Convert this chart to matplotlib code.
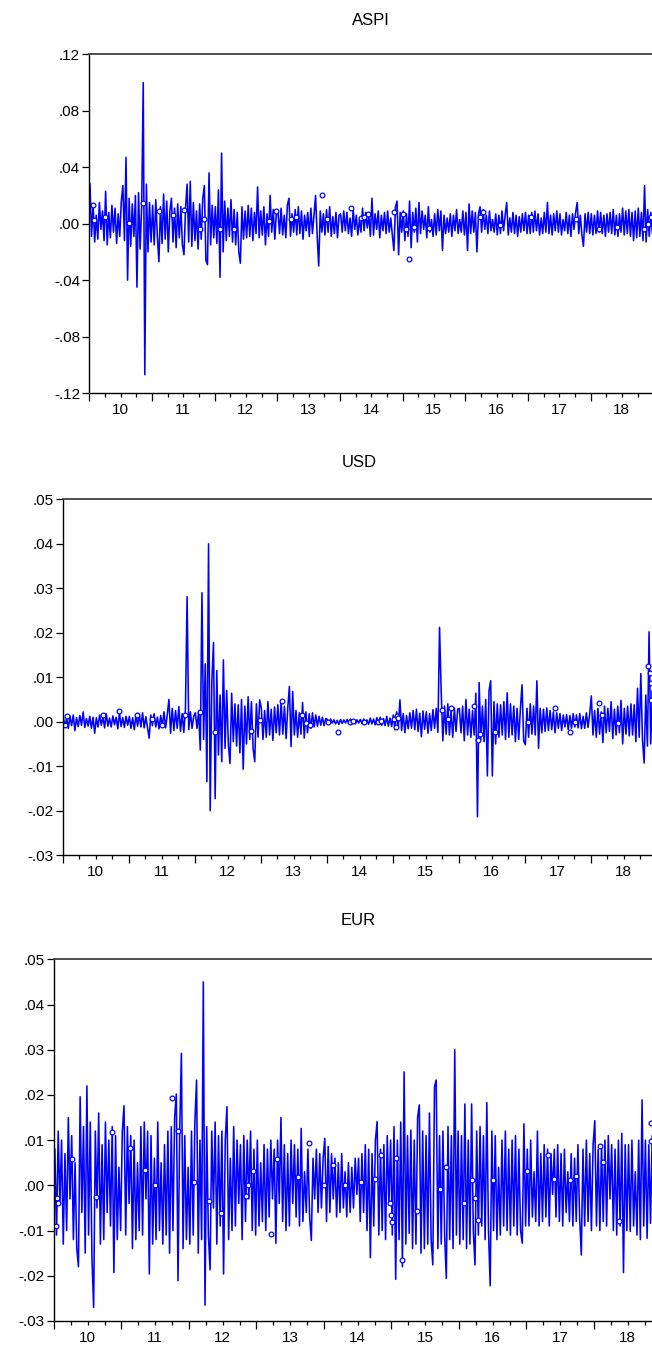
import numpy as np
import matplotlib
matplotlib.use("Agg")
import matplotlib.pyplot as plt
from matplotlib.ticker import FuncFormatter, NullFormatter

plt.rcParams['font.family'] = ['Liberation Sans', 'DejaVu Sans']

## DATA (daily returns, units of 1e-4, 40 obs per year 2010-2018)

aspi = [
    # 2010
    280, -90, 130, -130, 60, -110, 150, -40, 90, -120,
    230, -150, 80, -100, 130, -60, 110, -140, 70, -90,
    160, 270, -120, 470, -400, 180, -160, 140, -90, 200,
    -450, 220, -180, 120, 1000, -1070, 280, -200, 150, -130,
    # 2011
    130, -150, 170, -90, -270, 120, -140, 210, -110, 160,
    -200, 90, 180, -130, 110, -170, 140, -100, 120, -150,
    -220, 110, 280, -130, 300, -160, 150, -120, 90, -180,
    140, -110, 180, 270, -260, -290, 360, -150, 130, -100,
    # 2012
    120, -140, 240, -380, 500, -200, 160, -120, 110, -90,
    170, -130, 100, -150, 80, -200, -280, 120, -110, 90,
    -100, 130, -90, 110, -120, 80, -70, 260, -100, 90,
    -80, 120, -150, 70, -90, 200, -60, 100, -110, 80,
    # 2013
    90, -70, 110, -80, 60, -100, 130, 180, -90, 70,
    -60, 100, -80, 120, -70, 90, -110, 60, -50, 80,
    -90, 110, -70, 60, 200, -80, -300, 90, -60, 70,
    -80, 100, -60, 120, -90, 50, -70, 80, -100, 60,
    # 2014
    70, -60, 90, -50, 80, -70, 40, -90, 100, -40,
    60, -80, 30, -60, 110, -50, 80, -30, 60, -90,
    180, -80, 70, -40, 90, -100, 60, -50, 80, -70,
    90, -60, 40, -80, -190, 120, 160, -220, 80, -60,
    # 2015
    90, -120, 70, -90, 160, -170, 80, -60, 110, -130,
    150, -70, 90, -40, 60, -100, 120, -60, 30, -90,
    70, -80, 100, -50, 90, -190, 60, -70, 40, -60,
    70, -90, 60, -50, 100, -70, 30, -60, 90, -80,
    # 2016
    80, -190, 140, -70, 90, -60, 80, -200, 70, 120,
    -60, 100, -40, 60, -70, 90, -50, 30, -60, 70,
    -80, 60, -70, 90, -50, 60, 150, -80, 40, -60,
    80, -70, 60, -90, 50, -60, 70, -50, 80, -70,
    # 2017
    60, -70, 80, -60, 90, -50, 70, -80, 40, -70,
    80, -60, 150, -70, 60, -80, 70, -50, 90, -60,
    70, -80, 30, -50, 80, -70, 60, -90, 70, -40,
    80, 150, -70, 60, -80, -160, 70, -60, 80, -70,
    # 2018
    70, -80, 60, -70, 90, -60, 80, -70, 60, -90,
    70, -60, 80, -70, 100, -80, 60, -90, 70, -60,
    110, -80, 90, -70, 100, -90, 80, -120, 90, -100,
    110, -90, 80, -120, 270, -130, 100, -90, 80, -70,
]

usd = [
    # 2010
    10, -12, 8, -15, 12, -9, 15, -20, 9, -11,
    14, -8, 22, -13, 7, -10, 12, -15, 10, -26,
    9, -12, 15, -8, 11, -14, 18, -10, 8, -12,
    13, -7, 10, -16, 20, -11, 9, -13, 12, -8,
    # 2011
    12, -15, 9, -18, 14, -10, 16, -12, 20, -14,
    11, -13, -37, 15, -9, 18, -12, 10, -16, 14,
    -11, 22, -14, 16, 50, -26, 30, -20, 25, -15,
    34, -22, 18, -24, 28, 281, -18, 22, -15, 12,
    # 2012
    20, -15, 23, -64, 290, -40, 130, -135, 400, -200,
    90, 178, -173, 115, -75, 60, -90, 139, -60, 70,
    -50, -94, 64, -45, 40, -55, 38, -70, 50, -107,
    35, -50, 56, -40, 45, -60, -90, 40, -35, 49,
    # 2013
    30, -40, 25, -35, 45, -30, 28, -42, 33, -25,
    38, -30, 46, -28, 35, -38, 30, 79, -56, 68,
    -30, 25, -35, 20, -28, 43, -37, 22, -25, 18,
    -15, 20, -12, 15, -10, 12, -8, 10, -9, 7,
    # 2014
    5, -4, 6, -3, 4, -5, 3, -6, 5, -4,
    4, -3, 5, -4, 6, -4, 3, -5, 4, -3,
    5, -4, 6, -5, 4, -6, 8, -5, 6, -7,
    9, -6, 10, -8, 7, -9, 12, -10, 8, -11,
    # 2015
    15, -18, 22, -12, 49, -20, 18, -25, 14, -16,
    20, -15, 25, -18, 28, -22, 19, -34, 24, -17,
    22, -26, 18, -20, 27, -15, 30, -24, 212, 68,
    -43, 35, -28, 40, -30, 25, -35, 30, -22, 28,
    # 2016
    30, -25, 35, -43, 50, -30, 28, -35, 25, -30,
    64, -214, 88, -40, 35, -45, 50, -122, 70, 92,
    -122, 45, -50, 40, -35, 38, -30, 45, -40, 65,
    -35, 40, -30, 35, -45, 30, -40, 28, 83, -43,
    # 2017
    -52, 30, -35, 40, -28, 35, -30, 92, -60, 30,
    -25, 28, -22, 31, -20, 25, -18, 22, -25, 20,
    -15, 18, -20, 15, -12, 16, -18, 14, -15, 18,
    -12, 15, -14, 18, -16, 12, -15, 20, -13, 17,
    # 2018
    58, -30, 25, -35, 30, -28, 22, -47, 35, -25,
    30, -22, 45, -38, 28, -30, 35, -25, 48, -50,
    30, -28, 35, -32, 40, -30, 38, -45, 75, -35,
    108, -40, -93, 60, -55, 202, -50, 70, -45, 40,
]

eur = [
    # 2010
    80, -110, 120, -40, 100, -130, 70, -100, 150, -30,
    110, -120, 50, -140, -180, 196, -60, 130, -150, 220,
    -110, 140, -160, -270, 120, -50, 160, -130, 90, -120,
    140, -60, 100, -90, 130, -193, 110, -120, 40, -100,
    # 2011
    120, 176, -110, 130, -40, 110, -140, 100, -120, 50,
    -100, 130, -110, 140, -30, 120, -196, 110, -130, 60,
    -120, 140, -100, 50, -130, 90, -110, 120, -150, 130,
    -100, 150, 202, -211, 120, 292, -140, 110, -120, 40,
    # 2012
    -130, 120, -110, 140, 233, -150, 100, -120, 450, -265,
    130, -110, -187, 120, -50, 140, -130, 110, -90, 120,
    -196, 100, 174, -120, 60, -100, 130, -90, 100, -40,
    90, -120, 110, -80, 100, -30, 120, -100, 80, -110,
    # 2013
    100, -90, 50, -80, 90, -100, 80, -70, 100, -30,
    80, -128, 100, -40, 150, -80, 90, -100, 70, -90,
    100, -40, 90, -70, 80, -90, 126, -80, 30, -60,
    80, -70, -122, 60, -30, 80, -60, 70, -50, 60,
    # 2014
    104, -80, 86, -60, 70, -30, 60, -70, 50, -60,
    70, -50, 30, -70, 50, -60, 40, -50, 60, -20,
    60, -80, 70, -60, 90, -100, 80, -160, 70, -90,
    100, 141, -110, 80, -100, 90, -120, 110, -40, 100,
    # 2015
    -110, 130, -208, 100, -120, 140, -180, 251, -130, 110,
    -106, 122, -140, 100, -130, 150, 178, -150, 120, -140,
    110, -130, 160, -120, -176, 218, 233, -140, 110, -130,
    120, -110, -206, 130, -120, 110, -140, 300, -110, 120,
    # 2016
    -130, 110, -120, 180, -140, 100, -130, 180, -100, -176,
    120, -110, 130, -90, 110, -120, 183, -100, -222, 120,
    -100, 110, -120, 40, -110, 100, -90, 120, -100, 80,
    -110, 100, -90, 110, -110, 80, -100, -128, 136, -90,
    # 2017
    80, -90, 100, -70, 30, -80, 120, -90, 70, -80,
    90, -70, 80, -90, 70, -20, 80, -70, 90, -80,
    70, -90, 80, -60, 30, -80, 70, -90, 60, -80,
    90, -70, -154, 80, -90, 100, -80, 70, -100, 90,
    # 2018
    143, -90, 80, -100, 90, -80, 100, -90, 110, -30,
    90, -100, 80, -110, 100, -90, 115, -193, 90, -100,
    90, -102, 100, -90, 30, -110, 100, -120, 189, -90,
    100, -117, 90, -84, 110, -100, 80, -90, 100, -80,
]

# isolated observations (drawn as circles): decimal year, value
aspi_iso_t = [2010.06, 2010.07, 2010.25, 2010.63, 2010.86, 2011.12, 2011.34, 2011.51,
              2011.84, 2011.77, 2012.09, 2012.31, 2012.87, 2012.98, 2013.22, 2013.30,
              2013.72, 2013.79, 2014.17, 2014.33, 2014.38, 2014.45, 2014.86, 2015.01,
              2015.05, 2015.10, 2015.19, 2015.43, 2016.23, 2016.29, 2016.55, 2017.05,
              2017.77, 2018.13, 2018.42, 2018.86, 2018.91, 2018.97]
aspi_iso_v = [0.013, 0.0025, 0.005, 0.0006, 0.0145, 0.009, 0.006, 0.0095,
              0.003, -0.0037, -0.004, -0.004, 0.002, 0.009, 0.003, 0.005,
              0.020, 0.003, 0.0114, 0.0038, 0.005, 0.007, 0.008, 0.0067,
              -0.004, -0.025, -0.002, -0.003, 0.005, 0.008, -0.0007, 0.005,
              0.003, -0.004, -0.002, -0.004, 0.0, 0.005]

usd_iso_t = [2010.03, 2010.07, 2010.62, 2010.86, 2011.13, 2011.35, 2011.51, 2011.86,
             2012.09, 2012.31, 2012.86, 2012.99, 2013.32, 2013.63, 2013.69, 2013.75,
             2014.03, 2014.17, 2014.35, 2014.40, 2014.57, 2014.78, 2014.82, 2015.02,
             2015.05, 2015.07, 2015.09, 2015.75, 2015.84, 2015.88, 2016.23, 2016.29,
             2016.32, 2016.55, 2017.05, 2017.46, 2017.69, 2017.77, 2018.13, 2018.17,
             2018.42, 2018.87, 2018.90, 2018.91, 2018.92]
usd_iso_v = [-0.0008, 0.0013, 0.0016, 0.0024, 0.0015, 0.0005, -0.0008, 0.0016,
             0.0022, -0.0024, -0.0021, 0.0004, 0.0046, 0.0015, -0.0004, -0.0007,
             0.0, -0.0023, 0.0, 0.0002, 0.0, 0.0, 0.0001, 0.0005,
             -0.0013, 0.0013, 0.0008, 0.0026, 0.0007, 0.003, 0.0036, -0.0041,
             -0.0028, -0.0023, 0.0, 0.003, -0.0023, 0.0, 0.0041, 0.0015,
             -0.0004, 0.0125, 0.011, 0.0087, 0.0049]

eur_iso_t = [2010.03, 2010.05, 2010.06, 2010.26, 2010.62, 2010.86, 2011.12, 2011.35,
             2011.50, 2011.75, 2011.84, 2012.07, 2012.30, 2012.47, 2012.85, 2012.88,
             2012.95, 2013.21, 2013.30, 2013.61, 2013.78, 2014.00, 2014.14, 2014.31,
             2014.55, 2014.76, 2014.84, 2014.98, 2015.00, 2015.01, 2015.07, 2015.15,
             2015.38, 2015.72, 2015.81, 2016.08, 2016.20, 2016.24, 2016.28, 2016.51,
             2017.01, 2017.32, 2017.41, 2017.64, 2017.73, 2018.09, 2018.13, 2018.37,
             2018.84, 2018.85]
eur_iso_v = [-0.0091, -0.0027, -0.0038, 0.0058, -0.0025, 0.0117, 0.0082, 0.0035,
             0.0, 0.0193, 0.012, 0.0008, -0.0035, -0.0062, -0.0023, 0.0,
             0.0032, -0.0108, 0.0059, 0.0019, 0.0093, 0.0, 0.0045, 0.0,
             0.0008, 0.0015, 0.0067, -0.004, -0.0066, -0.008, 0.006, -0.0165,
             -0.0056, -0.0007, 0.0041, -0.0038, 0.0012, -0.0027, -0.0077, 0.0012,
             0.0032, 0.0067, 0.0013, 0.0012, 0.0021, 0.0087, 0.0052, -0.0079,
             0.0139, 0.0099]

# CHART FEATURES

line_blue = "#0000ff"
obs_per_year = 40

def ytick_fmt(v, pos):
    return f"{v:.2f}".replace("0.", ".", 1)

def year_fmt(v, pos):
    frac = v - np.floor(v)
    if abs(frac - 0.5) < 1e-6:
        return f"{int(np.floor(v)) % 100}"
    return ""

panels = [
    dict(title="ASPI", vals=aspi, iso_t=aspi_iso_t, iso_v=aspi_iso_v,
         rect=[0.1368, 0.7097, 0.8650, 0.2502], ylim=(-0.12, 0.12),
         yticks=np.arange(-0.12, 0.121, 0.04), pad=21),
    dict(title="USD", vals=usd, iso_t=usd_iso_t, iso_v=usd_iso_v,
         rect=[0.0959, 0.3685, 0.9110, 0.2627], ylim=(-0.03, 0.05),
         yticks=np.arange(-0.03, 0.051, 0.01), pad=23),
    dict(title="EUR", vals=eur, iso_t=eur_iso_t, iso_v=eur_iso_v,
         rect=[0.0828, 0.0244, 0.9317, 0.2671], ylim=(-0.03, 0.05),
         yticks=np.arange(-0.03, 0.051, 0.01), pad=25),
]

fig = plt.figure(figsize=(6.52, 13.54), dpi=100)

for p in panels:
    ax = fig.add_axes(p["rect"])
    vals = np.array(p["vals"]) / 1e4
    t = 2010 + (np.arange(len(vals)) + 0.5) / obs_per_year

    ax.plot(t, vals, color=line_blue, linewidth=1.15)
    ax.plot(p["iso_t"], p["iso_v"], linestyle="none", marker="o", markersize=3.4,
            markerfacecolor="white", markeredgecolor=line_blue, markeredgewidth=0.9)

    ax.set_xlim(2010, 2019)
    ax.set_ylim(*p["ylim"])

    ax.set_xticks(np.arange(2010, 2020, 1))
    ax.set_xticks([y + q for y in range(2010, 2019) for q in (0.25, 0.5, 0.75)], minor=True)
    ax.xaxis.set_major_formatter(NullFormatter())
    ax.xaxis.set_minor_formatter(FuncFormatter(year_fmt))
    ax.tick_params(axis="x", which="major", direction="out", length=6, width=0.9, color="black")
    ax.tick_params(axis="x", which="minor", direction="out", length=3, width=0.9,
                   color="black", labelsize=11, pad=4)

    ax.set_yticks(p["yticks"])
    ax.yaxis.set_major_formatter(FuncFormatter(ytick_fmt))
    ax.tick_params(axis="y", which="major", direction="out", length=5, width=0.9,
                   color="black", labelsize=11, pad=1.5)

    ax.spines["right"].set_visible(False)
    ax.spines["top"].set_color("#404040")
    ax.spines["top"].set_linewidth(1.3)
    ax.spines["left"].set_linewidth(1.0)
    ax.spines["bottom"].set_linewidth(1.0)

    ax.set_title(p["title"], fontsize=12, pad=p["pad"])

plt.savefig("out.png", dpi=100)
plt.close()
